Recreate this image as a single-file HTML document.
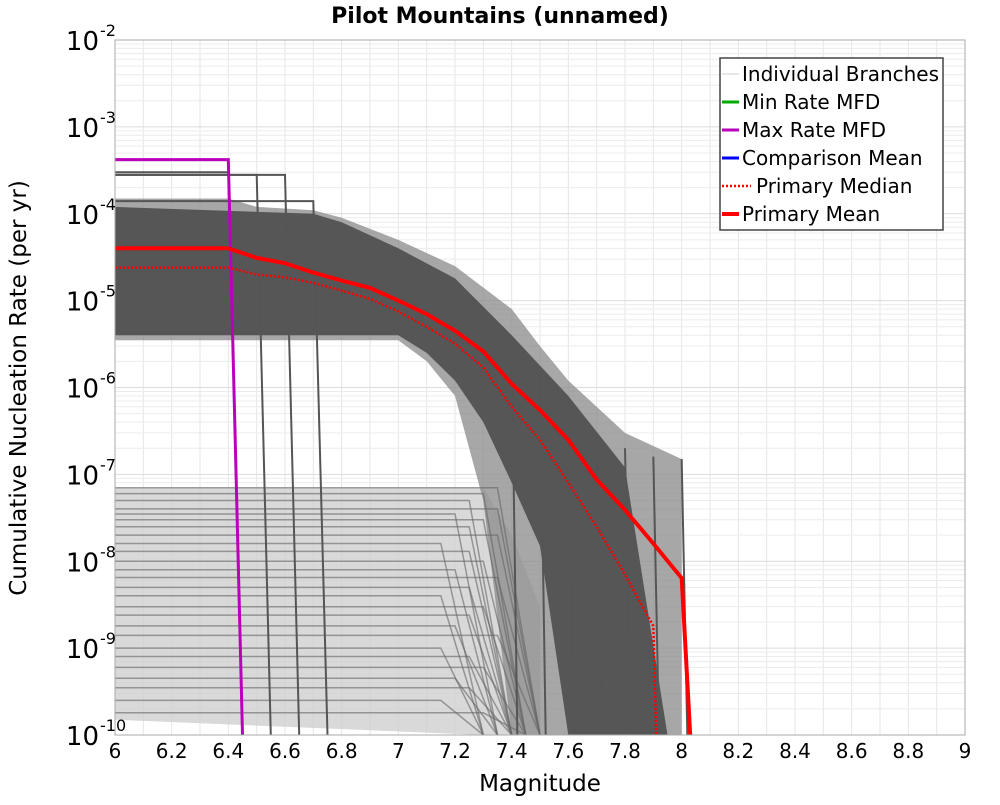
<!DOCTYPE html>
<html><head><meta charset="utf-8"><style>
body{margin:0;background:#fff;font-family:"Liberation Sans","DejaVu Sans",sans-serif}
svg text{font-family:"DejaVu Sans","Liberation Sans",sans-serif}
</style></head><body>
<svg id="c" width="1000" height="800" xmlns="http://www.w3.org/2000/svg">
<text x="500" y="23" text-anchor="middle" font-size="22" font-weight="bold">Pilot Mountains (unnamed)</text>
<g id="grid"></g>
<g id="marks"></g>
<rect x="115" y="40" width="850" height="695" fill="none" stroke="#aaa"/>
<g id="axes"></g>
<text x="540" y="791" text-anchor="middle" font-size="23">Magnitude</text>
<text transform="translate(26,388) rotate(-90)" text-anchor="middle" font-size="23">Cumulative Nucleation Rate (per yr)</text>
<g>
<rect x="720" y="58" width="223" height="172" fill="#fff" stroke="#444" stroke-width="1.5"/>
<g font-size="20">
<line x1="722" y1="74" x2="739" y2="74" stroke="#ccc" stroke-width="1"/><text x="742" y="81">Individual Branches</text>
<line x1="722" y1="102" x2="739" y2="102" stroke="#0a0" stroke-width="3"/><text x="742" y="109">Min Rate MFD</text>
<line x1="722" y1="130" x2="739" y2="130" stroke="#b0b" stroke-width="3"/><text x="742" y="137">Max Rate MFD</text>
<line x1="722" y1="158" x2="739" y2="158" stroke="#00f" stroke-width="3"/><text x="742" y="165">Comparison Mean</text>
<line x1="722" y1="186" x2="751" y2="186" stroke="#f00" stroke-width="2.5" stroke-dasharray="2,2"/><text x="756" y="193">Primary Median</text>
<line x1="722" y1="214" x2="739" y2="214" stroke="#f00" stroke-width="4"/><text x="742" y="221">Primary Mean</text>
</g></g>
</svg>
<script>
const xTicks=[6,6.2,6.4,6.6,6.8,7,7.2,7.4,7.6,7.8,8,8.2,8.4,8.6,8.8,9];
const yExps=[-2,-3,-4,-5,-6,-7,-8,-9,-10];
const meanM=[6,6.4,6.5,6.6,6.7,6.8,6.9,7.0,7.1,7.2,7.3,7.4,7.5,7.6,7.7,7.8,7.9,8.0,8.03];
const meanR=[4e-5,4e-5,3.1e-5,2.7e-5,2.1e-5,1.7e-5,1.4e-5,1.0e-5,7e-6,4.5e-6,2.6e-6,1.1e-6,5.5e-7,2.5e-7,8.7e-8,3.9e-8,1.6e-8,6.4e-9,1e-10];
const medM=[6,6.4,6.5,6.6,6.7,6.8,6.9,7.0,7.1,7.2,7.3,7.4,7.5,7.6,7.7,7.8,7.9,7.91];
const medR=[2.4e-5,2.4e-5,2.0e-5,1.85e-5,1.6e-5,1.3e-5,1.05e-5,7.5e-6,5e-6,3.2e-6,1.7e-6,6e-7,2.5e-7,8e-8,2.5e-8,7e-9,1.8e-9,1e-10];
const maxM=[6,6.4,6.45];
const maxR=[4.2e-4,4.2e-4,1e-10];
const stepStarts=[6.4,6.5,6.6,6.7];
const stepRates=[3e-4,2.8e-4,2.8e-4,1.4e-4];
const outerUpM=[6,6.4,6.5,6.7,6.8,7.0,7.2,7.4,7.5,7.6,7.8,8.0,8.0];
const outerUpR=[1.5e-4,1.5e-4,1.2e-4,1.1e-4,9e-5,5e-5,2.5e-5,8e-6,3e-6,1.2e-6,3e-7,1.5e-7,1e-10];
const outerLoM=[6,7.0,7.1,7.2,7.3,7.4];
const outerLoR=[3.5e-6,3.5e-6,2e-6,8e-7,5e-8,1e-10];
const coreUpM=[6,6.7,6.8,7.0,7.2,7.4,7.6,7.8,7.95];
const coreUpR=[1.2e-4,1e-4,8e-5,4e-5,1.8e-5,4e-6,8e-7,1.2e-7,1e-10];
const coreLoM=[6,7.0,7.1,7.2,7.3,7.4,7.5,7.6];
const coreLoR=[4e-6,4e-6,2.5e-6,1.2e-6,4e-7,8e-8,1.5e-8,1e-10];
const lowBandM=[6,7.3,7.4,7.5,7.5];
const lowBandTop=[7e-8,7e-8,2e-8,3e-9,1e-10];
const lowBandBotM=[7.3,6];
const lowBandBot=[1e-10,1.5e-10];
const lowLevels=[7e-8,6e-8,5e-8,4e-8,3.5e-8,3e-8,2.5e-8,2e-8,1.6e-8,1.3e-8,1e-8,8e-9,6.5e-9,5e-9,4e-9,3e-9,2.4e-9,1.8e-9,1.4e-9,1e-9,8e-10,6e-10,4.5e-10,3.5e-10,2.5e-10,1.8e-10];
const lowEnd=[7.5,7.45,7.4,7.5,7.35,7.45,7.4,7.5,7.3,7.4,7.45,7.35,7.5,7.4,7.3,7.45,7.4,7.35,7.5,7.3,7.4,7.45,7.35,7.4,7.3,7.45];
const cutM=[7.4,7.5,7.6,7.7,7.8,7.9,8.0];
const cutR=[3e-6,1.5e-6,7e-7,3e-7,2e-7,1.6e-7,1.5e-7];

const X0=115,X1=965,Y0=40,Y1=735;
const xs=m=>X0+(m-6)/3*(X1-X0);
const ys=r=>Y0+(-2-Math.log10(r))/8*(Y1-Y0);
const NS='http://www.w3.org/2000/svg';
function mk(tag,attrs,parent){const e=document.createElementNS(NS,tag);for(const k in attrs)e.setAttribute(k,attrs[k]);document.getElementById(parent).appendChild(e);return e;}
function pts(M,R){return M.map((m,i)=>xs(m).toFixed(1)+','+ys(R[i]).toFixed(1)).join(' ');}

for(let m=6;m<=9.001;m+=0.1){const g=mk('line',{x1:xs(m),x2:xs(m),y1:Y0,y2:Y1,stroke:'#e6e6e6','stroke-width':1},'grid');

}
for(let e=-10;e<-2;e++)for(let k=1;k<10;k++){const r=k*Math.pow(10,e);const g=mk('line',{x1:X0,x2:X1,y1:ys(r),y2:ys(r),stroke:k==1?'#dcdcdc':'#ececec','stroke-width':1},'grid');

}

let p=mk('polygon',{points:pts(lowBandM,lowBandTop)+' '+pts(lowBandBotM,lowBandBot),fill:'#d0d0d0','fill-opacity':0.8},'marks');


p=mk('polygon',{points:pts(outerUpM,outerUpR)+' '+pts(outerLoM.slice().reverse(),outerLoR.slice().reverse()),fill:'#8a8a8a','fill-opacity':0.75},'marks');


p=mk('polygon',{points:pts(coreUpM,coreUpR)+' '+pts(coreLoM.slice().reverse(),coreLoR.slice().reverse()),fill:'#4e4e4e','fill-opacity':0.9},'marks');


lowLevels.forEach((r,i)=>{const l=mk('polyline',{points:pts([6,lowEnd[i]-0.15,lowEnd[i]],[r,r,1e-10]),fill:'none',stroke:'#666','stroke-opacity':0.6,'stroke-width':1.5},'marks');

});
cutM.forEach((m,i)=>{const l=mk('line',{x1:xs(m),x2:xs(m+0.02),y1:ys(cutR[i]),y2:Y1,stroke:'#555','stroke-width':2},'marks');

});
stepStarts.forEach((m,i)=>{const l=mk('polyline',{points:pts([6,m,m+0.05],[stepRates[i],stepRates[i],1e-10]),fill:'none',stroke:'#555','stroke-width':2},'marks');

});
let l=mk('polyline',{points:pts(maxM,maxR),fill:'none',stroke:'#b0b','stroke-width':3},'marks');


l=mk('polyline',{points:pts(medM,medR),fill:'none',stroke:'#f00','stroke-width':2.5,'stroke-dasharray':'2,2'},'marks');


l=mk('polyline',{points:pts(meanM,meanR),fill:'none',stroke:'#f00','stroke-width':4},'marks');



xTicks.forEach(m=>{const t=mk('text',{x:xs(m),y:758,'text-anchor':'middle','font-size':20},'axes');t.textContent=(+m.toFixed(1)).toString();

});
yExps.forEach(e=>{const y=ys(Math.pow(10,e));const t=mk('text',{x:99,y:y+10,'text-anchor':'end','font-size':26},'axes');t.textContent='10';


const s=mk('text',{x:100,y:y-4,'font-size':16},'axes');s.textContent=String(e);

});
</script>
</body></html>
